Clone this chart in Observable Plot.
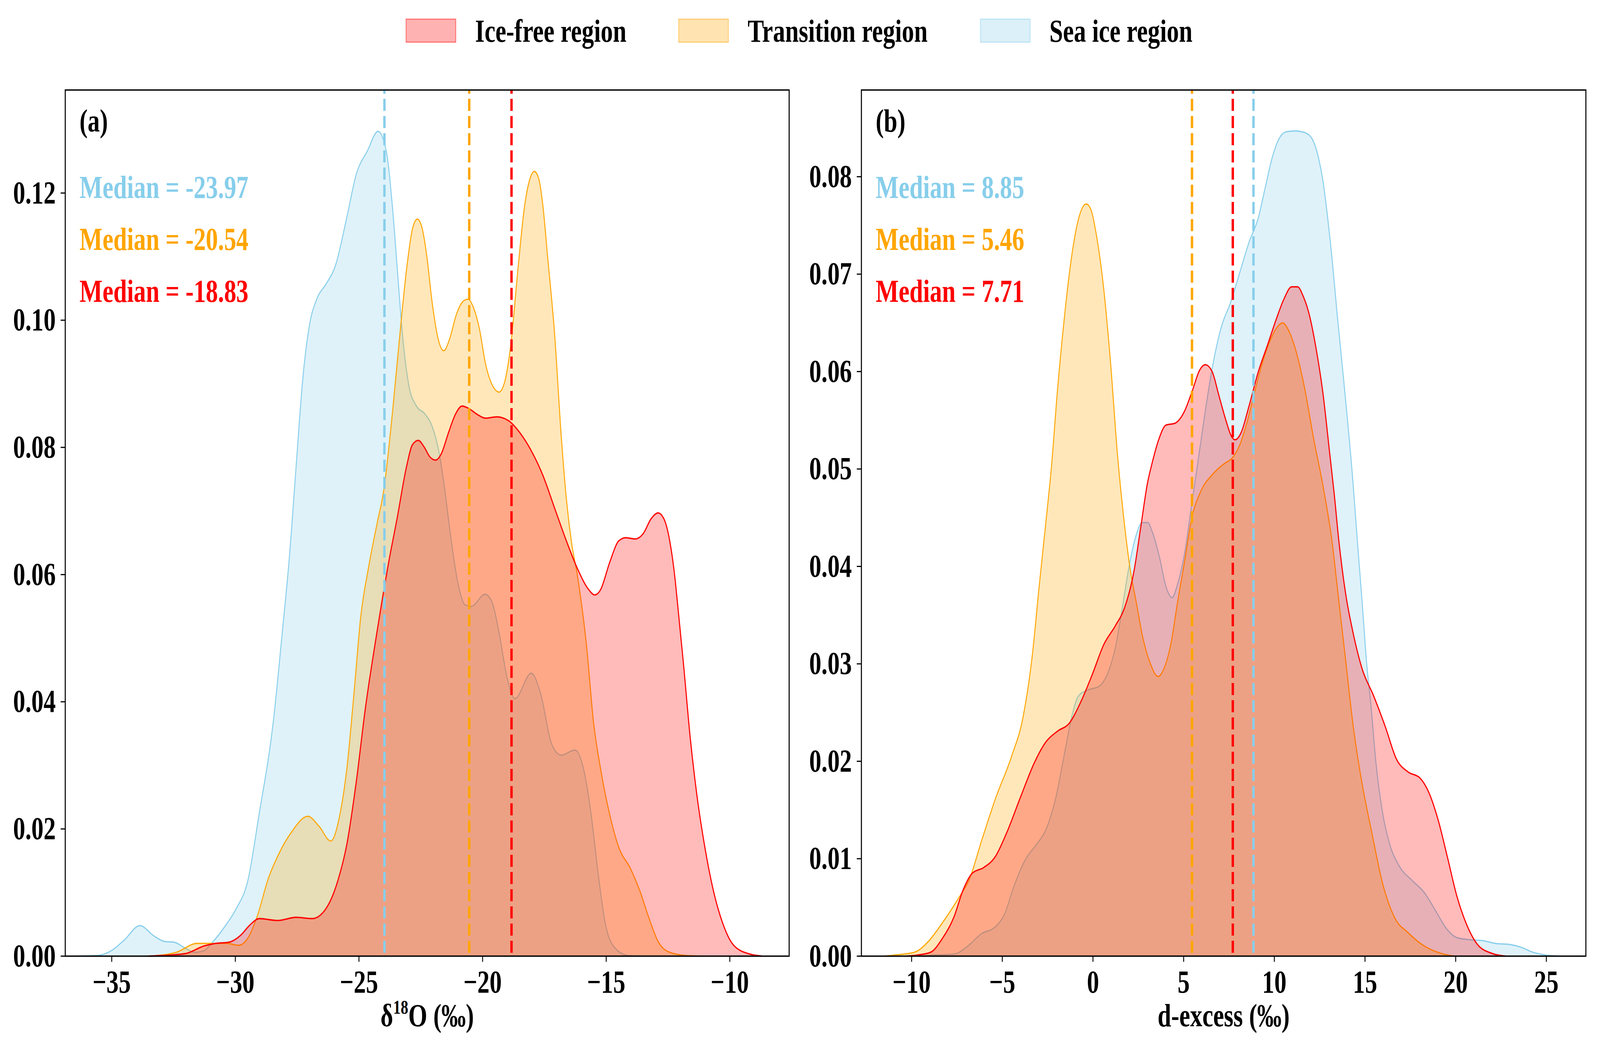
<!DOCTYPE html>
<html>
<head>
<meta charset="utf-8">
<script src="https://cdn.jsdelivr.net/npm/d3@7"></script>
<script src="https://cdn.jsdelivr.net/npm/@observablehq/plot@0.6"></script>
<style>
  html, body { margin: 0; padding: 0; background: #fff; overflow: hidden; }
  #wrap { position: relative; overflow: hidden; width: 5382px; height: 2694px; background: #fff; }
  #root { width: 5382px; height: 2694px; position: absolute; left: 0; top: 0; transform-origin: 0 0; background: #fff; }
  .abs { position: absolute; top: 0; }
</style>
</head>
<body>
<div id="wrap">
<div id="root">
  <div id="legend" class="abs" style="left:0"></div>
  <div id="pa" class="abs" style="left:0"></div>
  <div id="pb" class="abs" style="left:2680px"></div>
</div>
</div>
<script>
// ---------- data ----------
const seriesNames = ["Ice-free region", "Transition region", "Sea ice region"];
const seriesColors = ["#FF0000", "#FFA500", "#87CEEB"];

// panel (a): δ18O densities [x, density]
const aSeaIce = [[-36.5,0],[-35.6,0.0001],[-35.0,0.0009],[-34.5,0.0025],[-33.86,0.0048],[-33.3,0.0032],[-32.86,0.0023],[-32.49,0.0022],[-32.0,0.0012],[-31.65,0.0006],[-31.3,0.0008],[-30.9,0.0023],[-30.4,0.0048],[-29.96,0.0075],[-29.5,0.0118],[-29.04,0.0223],[-28.47,0.0367],[-28.1,0.051],[-27.82,0.0625],[-27.55,0.0766],[-27.27,0.0909],[-26.99,0.0995],[-26.71,0.1033],[-26.33,0.1057],[-25.96,0.1085],[-25.49,0.1162],[-25.12,0.1228],[-24.65,0.1267],[-24.23,0.1297],[-23.9,0.1267],[-23.63,0.1171],[-23.44,0.1076],[-23.25,0.0981],[-22.97,0.0895],[-22.69,0.0866],[-22.32,0.0852],[-22.04,0.0833],[-21.75,0.079],[-21.57,0.0745],[-21.29,0.066],[-21.02,0.0591],[-20.7,0.0552],[-20.46,0.055],[-19.9,0.0569],[-19.62,0.0557],[-19.34,0.051],[-19.01,0.0438],[-18.69,0.0405],[-18.03,0.0445],[-17.66,0.0414],[-17.2,0.0333],[-16.82,0.0316],[-16.26,0.0324],[-15.89,0.029],[-15.61,0.0223],[-15.32,0.0128],[-15.04,0.0052],[-14.67,0.0014],[-14.11,0.0001],[-13.5,0]];
const aTransition = [[-33.6,0],[-33.14,0.0001],[-32.39,0.0006],[-31.55,0.002],[-30.9,0.002],[-30.34,0.002],[-29.87,0.0017],[-29.5,0.0028],[-29.13,0.0061],[-28.66,0.0123],[-28.29,0.0157],[-27.73,0.0195],[-27.07,0.022],[-26.61,0.0204],[-26.14,0.0181],[-25.77,0.0223],[-25.49,0.0295],[-25.2,0.0414],[-24.93,0.0533],[-24.6,0.0614],[-24.27,0.068],[-24.0,0.0732],[-23.63,0.0861],[-23.34,0.098],[-23.06,0.1085],[-22.84,0.1143],[-22.64,0.1159],[-22.46,0.1147],[-22.27,0.1105],[-22.04,0.1028],[-21.8,0.0971],[-21.57,0.0952],[-21.33,0.0971],[-21.06,0.1009],[-20.78,0.103],[-20.59,0.1033],[-20.36,0.1019],[-20.12,0.0985],[-19.89,0.0933],[-19.62,0.0899],[-19.33,0.0887],[-19.1,0.0904],[-18.86,0.0961],[-18.58,0.1076],[-18.3,0.118],[-18.07,0.1224],[-17.91,0.1234],[-17.74,0.1224],[-17.56,0.118],[-17.37,0.11],[-17.09,0.098],[-16.81,0.0813],[-16.6,0.0715],[-16.4,0.065],[-16.17,0.06],[-15.79,0.0486],[-15.51,0.0367],[-15.23,0.0295],[-14.86,0.0223],[-14.49,0.0171],[-14.02,0.0138],[-13.65,0.0104],[-13.28,0.0061],[-12.9,0.0023],[-12.43,0.0006],[-11.78,0.0001],[-11.2,0]];
const aIceFree = [[-33.5,0],[-32.96,0.0001],[-32.02,0.0004],[-31.27,0.0016],[-30.8,0.002],[-30.25,0.0022],[-29.78,0.0033],[-29.41,0.0049],[-29.03,0.0059],[-28.29,0.0056],[-27.54,0.0061],[-26.89,0.0059],[-26.33,0.0075],[-25.86,0.0118],[-25.49,0.0176],[-25.12,0.0271],[-24.74,0.039],[-24.27,0.051],[-23.8,0.0619],[-23.45,0.069],[-23.07,0.0771],[-22.84,0.0804],[-22.6,0.0811],[-22.37,0.0801],[-22.13,0.0785],[-21.9,0.078],[-21.67,0.079],[-21.38,0.0823],[-21.1,0.0852],[-20.83,0.0865],[-20.55,0.0861],[-20.22,0.0852],[-19.89,0.0846],[-19.43,0.0848],[-18.95,0.0842],[-18.49,0.0823],[-18.02,0.0794],[-17.56,0.0756],[-17.09,0.0705],[-16.63,0.0655],[-16.17,0.061],[-15.7,0.0576],[-15.47,0.0568],[-15.23,0.0576],[-14.86,0.0619],[-14.49,0.0653],[-14.21,0.0658],[-13.83,0.0656],[-13.51,0.0664],[-13.18,0.0688],[-12.9,0.0697],[-12.67,0.0688],[-12.43,0.0653],[-12.25,0.0605],[-12.06,0.0533],[-11.88,0.0462],[-11.6,0.0343],[-11.31,0.0247],[-11.03,0.0176],[-10.67,0.0104],[-10.29,0.0052],[-9.82,0.0016],[-9.17,0.0003],[-8.7,0]];
const aMedians = [-23.97, -20.54, -18.83];   // sea ice, transition, ice-free

// panel (b): d-excess densities [x, density]
const bSeaIce = [[-9.5,0],[-8.95,0.0001],[-7.67,0.0002],[-6.92,0.001],[-6.15,0.0023],[-5.39,0.003],[-4.88,0.0043],[-4.37,0.0071],[-3.73,0.0099],[-3.1,0.0115],[-2.59,0.013],[-2.07,0.0161],[-1.57,0.0208],[-1.18,0.0245],[-0.8,0.0267],[-0.3,0.0273],[0.34,0.0277],[0.85,0.0292],[1.24,0.0317],[1.62,0.0358],[2.0,0.0401],[2.38,0.0432],[2.71,0.0445],[3.02,0.0445],[3.28,0.0435],[3.66,0.041],[4.03,0.0379],[4.36,0.0368],[4.67,0.0382],[5.05,0.0413],[5.44,0.0463],[5.8,0.0509],[6.19,0.0559],[6.57,0.0603],[7.08,0.0646],[7.59,0.0671],[8.1,0.0702],[8.61,0.0733],[9.12,0.0758],[9.5,0.0789],[9.89,0.082],[10.26,0.0839],[10.64,0.0846],[11.15,0.0847],[11.72,0.0845],[12.11,0.0838],[12.43,0.082],[12.68,0.0796],[12.94,0.0758],[13.19,0.0715],[13.45,0.0662],[13.8,0.0596],[14.33,0.0488],[14.58,0.0426],[14.84,0.0364],[15.09,0.0301],[15.34,0.0255],[15.6,0.0199],[15.98,0.0146],[16.36,0.0115],[16.87,0.0093],[17.64,0.0077],[18.28,0.0065],[18.91,0.0046],[19.54,0.0027],[20.06,0.0019],[20.69,0.0017],[21.46,0.0016],[22.22,0.0013],[22.98,0.0012],[23.62,0.0009],[24.26,0.0004],[25.02,0.0001],[25.78,0]];
const bTransition = [[-11.5,0],[-10.99,0.0001],[-9.84,0.0004],[-9.08,0.0015],[-8.31,0.0034],[-7.43,0.0059],[-6.79,0.008],[-6.15,0.0118],[-5.39,0.0161],[-4.49,0.0205],[-3.86,0.0245],[-3.35,0.0308],[-2.97,0.0379],[-2.6,0.0445],[-2.3,0.05],[-1.97,0.0578],[-1.58,0.0655],[-1.2,0.0715],[-0.82,0.0755],[-0.56,0.0769],[-0.37,0.0772],[-0.11,0.0766],[0.2,0.0739],[0.58,0.0687],[0.97,0.0609],[1.35,0.0515],[1.75,0.0441],[2.07,0.0395],[2.38,0.0364],[2.76,0.0326],[3.15,0.0301],[3.59,0.0287],[3.91,0.0295],[4.29,0.032],[4.67,0.0364],[5.05,0.0405],[5.44,0.0449],[5.94,0.0477],[6.57,0.0494],[7.2,0.0505],[7.71,0.0512],[8.1,0.0525],[8.48,0.0547],[8.86,0.0575],[9.25,0.0603],[9.75,0.0631],[10.13,0.0645],[10.45,0.065],[10.77,0.0643],[11.15,0.0624],[11.66,0.0584],[12.17,0.0531],[12.68,0.0483],[13.18,0.0426],[13.56,0.0364],[13.95,0.0301],[14.33,0.0239],[14.84,0.0177],[15.34,0.013],[15.98,0.0074],[16.62,0.004],[17.38,0.0024],[18.14,0.0012],[19.16,0.0003],[19.93,0]];
const bIceFree = [[-10.3,0],[-9.72,0.0001],[-8.95,0.0004],[-8.31,0.0018],[-7.67,0.004],[-7.16,0.0068],[-6.66,0.0085],[-6.02,0.0091],[-5.39,0.0102],[-4.75,0.0127],[-3.98,0.0164],[-3.22,0.0199],[-2.59,0.022],[-1.95,0.0231],[-1.31,0.0239],[-0.67,0.0261],[-0.04,0.0289],[0.6,0.032],[1.23,0.0339],[1.75,0.0358],[2.26,0.0395],[2.64,0.0441],[3.0,0.0485],[3.26,0.0506],[3.64,0.0531],[4.02,0.0545],[4.53,0.0547],[5.04,0.0559],[5.49,0.0581],[5.87,0.0601],[6.19,0.0607],[6.57,0.06],[6.95,0.0575],[7.33,0.055],[7.65,0.0533],[7.84,0.053],[8.16,0.0537],[8.61,0.0565],[9.12,0.06],[9.62,0.0627],[10.13,0.0655],[10.52,0.0674],[10.96,0.0687],[11.28,0.0687],[11.6,0.0677],[11.92,0.0659],[12.3,0.0624],[12.68,0.0578],[13.06,0.0515],[13.3,0.0475],[13.56,0.0426],[13.95,0.037],[14.33,0.0333],[14.84,0.0295],[15.48,0.0267],[16.11,0.0236],[16.74,0.0202],[17.38,0.0189],[18.02,0.0183],[18.52,0.0168],[19.03,0.014],[19.54,0.0102],[20.06,0.0062],[20.57,0.0034],[21.2,0.0012],[21.97,0.0003],[22.74,0]];
const bMedians = [8.85, 5.46, 7.71];   // sea ice, transition, ice-free

// ticks / labels
const aXTicks = [-35, -30, -25, -20, -15, -10];
const aYTicks = [0, 0.02, 0.04, 0.06, 0.08, 0.10, 0.12];
const bXTicks = [-10, -5, 0, 5, 10, 15, 20, 25];
const bYTicks = [0, 0.01, 0.02, 0.03, 0.04, 0.05, 0.06, 0.07, 0.08];
const aXLabel = "δ18O (‰)";
const bXLabel = "d-excess (‰)";

// ---------- drawing ----------
const FONT = "'Liberation Serif', 'Times New Roman', serif";
const FS = 82;
const minusFmt = d => d < 0 ? "\u2212" + Math.abs(d) : String(d);

function panel({series, medians, xDomain, yDomain, xTicks, yTicks, tag, xLabel, width, ml, mr}) {
  // series order: sea ice, transition, ice-free (drawn in that order)
  const cols = ["#87CEEB", "#FFA500", "#FF0000"];
  const marks = [];
  series.forEach((s, i) => {
    marks.push(Plot.areaY(s, {x: d => d[0], y: d => d[1], fill: cols[i], fillOpacity: 0.27, curve: "monotone-x"}));
    marks.push(Plot.lineY(s, {x: d => d[0], y: d => d[1], stroke: cols[i], strokeWidth: i === 2 ? 3.6 : 3.2, curve: "monotone-x"}));
  });
  medians.forEach((m, i) => {
    marks.push(Plot.ruleX([m], {x: d => d, stroke: cols[i], strokeWidth: 8, strokeDasharray: "31,13", strokeDashoffset: 21}));
  });
  const medRows = medians.map((m, i) => ({t: "Median = " + m.toFixed(2), c: cols[i], dy: 250 + i * 133}));
  medRows.forEach(r => {
    marks.push(Plot.text([r.t], {text: d => d, frameAnchor: "top-left", dx: 48, dy: r.dy, fill: r.c,
      textAnchor: "start", lineAnchor: "middle", fontSize: FS, fontWeight: "bold", fontFamily: FONT}));
  });
  marks.push(Plot.text([tag], {text: d => d, frameAnchor: "top-left", dx: 48, dy: 80,
    textAnchor: "start", lineAnchor: "middle", fontSize: FS, fontWeight: "bold", fontFamily: FONT, fill: "black"}));
  marks.push(Plot.text([xLabel], {text: d => d, frameAnchor: "bottom", dy: 153,
    textAnchor: "middle", lineAnchor: "middle", fontSize: FS, fontWeight: "bold", fontFamily: FONT, fill: "black"}));
  marks.push(Plot.axisX({ticks: xTicks, tickFormat: minusFmt, tickSize: 15, tickPadding: 20, strokeWidth: 3, label: null, fontSize: FS, fontWeight: "bold"}));
  marks.push(Plot.axisY({ticks: yTicks, tickFormat: d3.format(".2f"), tickSize: 15, tickPadding: 17, strokeWidth: 3, label: null, fontSize: FS, fontWeight: "bold"}));
  marks.push(Plot.frame({stroke: "black", strokeWidth: 3.5}));
  const svg = Plot.plot({
    width, height: 2694,
    marginLeft: ml, marginRight: mr, marginTop: 230, marginBottom: 246,
    style: {fontFamily: FONT, fontSize: FS + "px", fontWeight: "bold", background: "transparent", color: "black", overflow: "visible", maxWidth: "none"},
    x: {domain: xDomain},
    y: {domain: yDomain},
    marks
  });
  // superscript in axis label
  d3.select(svg).selectAll("text").each(function() {
    if (this.textContent === "δ18O (‰)") {
      const t = d3.select(this);
      t.text(null);
      t.append("tspan").text("δ");
      t.append("tspan").attr("dy", -32).attr("font-size", Math.round(FS * 0.62)).text("18");
      t.append("tspan").attr("dy", 32).text("O (‰)");
    }
  });
  return svg;
}

document.getElementById("pa").appendChild(panel({
  series: [aSeaIce, aTransition, aIceFree], medians: aMedians,
  xDomain: [-36.88, -7.6], yDomain: [0, 0.1362], xTicks: aXTicks, yTicks: aYTicks,
  tag: "(a)", xLabel: aXLabel, width: 2680, ml: 219, mr: 26
}));
document.getElementById("pb").appendChild(panel({
  series: [bSeaIce, bTransition, bIceFree], medians: bMedians,
  xDomain: [-12.77, 27.18], yDomain: [0, 0.0889], xTicks: bXTicks, yTicks: bYTicks,
  tag: "(b)", xLabel: bXLabel, width: 2702, ml: 217, mr: 48
}));

// legend
const legendX = [1366, 2283, 3298];
const lg = d3.select("#legend").append("svg").attr("width", 5382).attr("height", 200)
  .style("font-family", FONT).style("font-weight", "bold").style("font-size", FS + "px");
seriesNames.forEach((name, i) => {
  lg.append("rect").attr("x", legendX[i]).attr("y", 49).attr("width", 167).attr("height", 59)
    .attr("fill", seriesColors[i]).attr("fill-opacity", 0.3)
    .attr("stroke", seriesColors[i]).attr("stroke-opacity", 0.45).attr("stroke-width", 3);
  lg.append("text").attr("x", legendX[i] + 232).attr("y", 107).attr("fill", "black").text(name);
});

// fit the 5382×2694 design to the browser window
function fit() {
  const vw = window.innerWidth || document.documentElement.clientWidth || 5382;
  const vh = window.innerHeight || document.documentElement.clientHeight || 2694;
  const sx = vw / 5382, sy = vh / 2694;
  const wrap = document.getElementById("wrap");
  wrap.style.width = vw + "px";
  wrap.style.height = vh + "px";
  document.getElementById("root").style.transform = "scale(" + sx + "," + sy + ")";
}
fit();
window.addEventListener("resize", fit);
</script>
</body>
</html>
